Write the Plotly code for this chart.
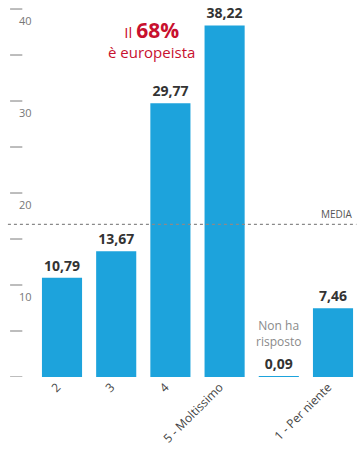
import plotly.graph_objects as go

categories = ["2", "3", "4", "5 - Moltissimo", "Non ha risposto", "1 - Per niente"]
tick_labels = ["2", "3", "4", "5 - Moltissimo", "", "1 - Per niente"]
values = [10.79, 13.67, 29.77, 38.22, 0.09, 7.46]
media = 16.6
y_ticks_major = [10, 20, 30, 40]
y_ticks_minor = [0, 5, 15, 25, 35]

BAR = "#1da3dc"
RED = "#c8102e"
xs = list(range(len(categories)))
texts = ["<b>" + f"{v:.2f}".replace(".", ",") + "</b>" for v in values]

fig = go.Figure()
fig.add_trace(go.Bar(
    x=xs, y=values, width=0.74,
    marker=dict(color=BAR, line=dict(width=0)),
    text=texts, textposition="outside", cliponaxis=False,
    textfont=dict(family="Open Sans", size=14, color="#333333"),
    hoverinfo="skip",
))

shapes = []
shapes.append(dict(type="line", xref="paper", yref="y", x0=0.022, x1=0.99,
                   y0=media, y1=media, line=dict(color="#8a8a8a", width=1.2, dash="dot")))
for t in y_ticks_major + y_ticks_minor:
    shapes.append(dict(type="line", xref="paper", yref="y", x0=0.028, x1=0.062,
                       y0=t, y1=t, line=dict(color="#9a9a9a", width=1.3)))

annotations = []
for t in y_ticks_major:
    annotations.append(dict(x=0.047, xref="paper", y=t, yref="y", text=str(t),
                            showarrow=False, yanchor="top", yshift=-2,
                            font=dict(family="Open Sans", size=11, color="#777777")))
annotations.append(dict(x=0.985, xref="paper", y=media, yref="y", text="MEDIA",
                        showarrow=False, xanchor="right", yanchor="bottom", yshift=1,
                        font=dict(family="Open Sans", size=10, color="#555555")))
annotations.append(dict(x=4, xref="x", y=4.7, yref="y", text="Non ha<br>risposto",
                        showarrow=False,
                        font=dict(family="Open Sans", size=12, color="#8a8a8a")))
annotations.append(dict(x=0.294, xref="paper", y=(377 - 39) / 9.2, yref="y", yanchor="middle",
                        align="center",
                        text="Il <span style='font-size:21px'><b>68%</b></span><br>è europeista",
                        showarrow=False,
                        font=dict(family="Open Sans", size=15, color=RED)))

fig.update_layout(
    width=360, height=457,
    margin=dict(l=0, r=0, t=0, b=80),
    paper_bgcolor="white", plot_bgcolor="white",
    showlegend=False,
    shapes=shapes, annotations=annotations,
    xaxis=dict(range=[-1.144, 5.498], tickmode="array", tickvals=xs, ticktext=tick_labels,
               tickangle=-45, showgrid=False, zeroline=False, showline=False, ticks="",
               automargin=False, ticklabelshift=-5,
               tickfont=dict(family="Open Sans", size=12, color="#444444")),
    yaxis=dict(range=[0, 40.98], showticklabels=False, showgrid=False, zeroline=False,
               showline=False, ticks="", automargin=False),
)
fig.write_html("out.html")
